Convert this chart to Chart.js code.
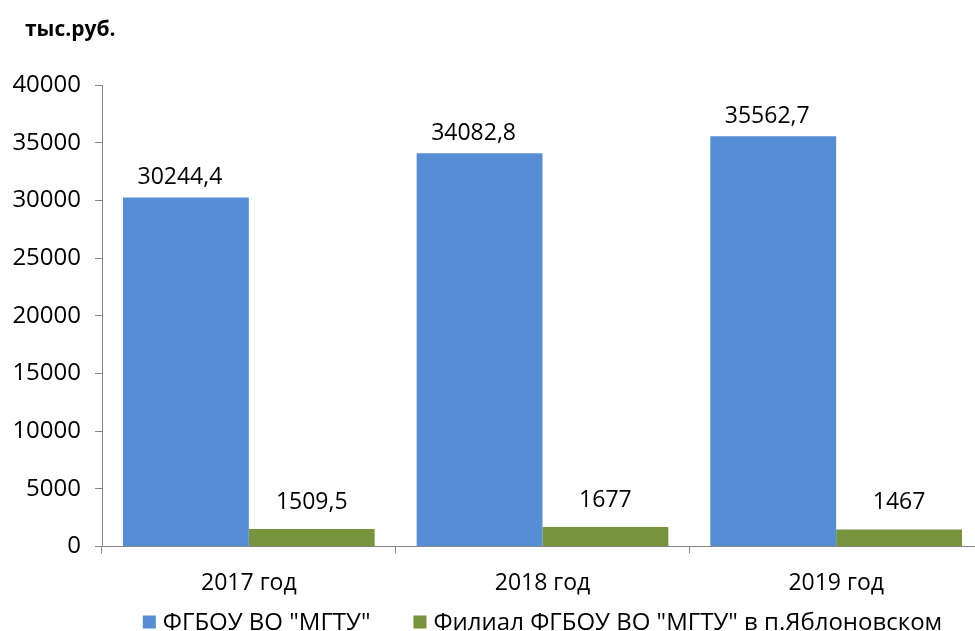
<!DOCTYPE html>
<html>
<head>
<meta charset="utf-8">
<script src="https://cdn.jsdelivr.net/npm/chart.js@4"></script>
<style>
html,body{margin:0;padding:0;overflow:hidden;background:#fff;}
#wrap{width:990px;height:631px;position:relative;}
</style>
</head>
<body>
<div id="wrap"><canvas id="c"></canvas></div>
<script>
const categories = ["2017 год", "2018 год", "2019 год"];
const seriesNames = ['ФГБОУ ВО "МГТУ"', 'Филиал ФГБОУ ВО "МГТУ" в п.Яблоновском'];
const mainValues = [30244.4, 34082.8, 35562.7];
const branchValues = [1509.5, 1677, 1467];
const mainLabels = ["30244,4", "34082,8", "35562,7"];
const branchLabels = ["1509,5", "1677", "1467"];
const unitTitle = "тыс.руб.";

const FONT = "'Open Sans', sans-serif";

const labelPlugin = {
  id: 'valueLabels',
  afterDatasetsDraw(chart) {
    const ctx = chart.ctx;
    ctx.save();
    ctx.font = "23px " + FONT;
    ctx.fillStyle = "#000";
    ctx.textAlign = "center";
    ctx.textBaseline = "middle";
    const sets = [
      {labels: mainLabels, dy: -20, dx: -6},
      {labels: branchLabels, dy: -27, dx: 0}
    ];
    chart.data.datasets.forEach((ds, i) => {
      const meta = chart.getDatasetMeta(i);
      meta.data.forEach((bar, j) => {
        ctx.fillText(sets[i].labels[j], bar.x + sets[i].dx, bar.y + sets[i].dy);
      });
    });
    ctx.restore();
  }
};

const titleLegendPlugin = {
  id: 'titleLegend',
  afterDraw(chart) {
    const ctx = chart.ctx;
    ctx.save();
    ctx.font = "bold 21px " + FONT;
    ctx.fillStyle = "#000";
    ctx.textAlign = "left";
    ctx.textBaseline = "middle";
    ctx.fillText(unitTitle, 25, 30);

    // legend
    ctx.font = "24px " + FONT;
    const box = 13, gapBox = 7, gapItem = 43;
    const ds = chart.data.datasets;
    const widths = ds.map(d => box + gapBox + ctx.measureText(d.label).width);
    const total = widths.reduce((a, b) => a + b, 0) + gapItem * (ds.length - 1);
    const ca = chart.chartArea;
    let x = (ca.left + ca.right) / 2 - total / 2;
    const y = 622;
    ds.forEach((d, i) => {
      ctx.fillStyle = d.backgroundColor;
      ctx.fillRect(x, y - box / 2, box, box);
      ctx.fillStyle = "#000";
      ctx.fillText(d.label, x + box + gapBox, y + 1);
      x += widths[i] + gapItem;
    });
    ctx.restore();
  }
};

new Chart(document.getElementById('c'), {
  type: 'bar',
  data: {
    labels: categories,
    datasets: [
      {label: seriesNames[0], data: mainValues, backgroundColor: '#558ED5', borderWidth: 0},
      {label: seriesNames[1], data: branchValues, backgroundColor: '#77933C', borderWidth: 0}
    ]
  },
  options: {
    responsive: true,
    maintainAspectRatio: false,
    animation: false,
    devicePixelRatio: 1,
    layout: {padding: {top: 85, right: 7, left: 0, bottom: 18}},
    datasets: {bar: {categoryPercentage: 0.857, barPercentage: 1.0}},
    plugins: {
      legend: {display: false},
      tooltip: {enabled: false},
      title: {display: false}
    },
    scales: {
      x: {
        grid: {drawOnChartArea: false, drawTicks: true, tickLength: 7, color: '#868686', offset: true},
        border: {color: '#868686', width: 1},
        ticks: {font: {family: FONT, size: 23}, color: '#000', padding: 16}
      },
      y: {
        min: 0, max: 40000,
        afterFit(scale) { scale.width = 102; },
        grid: {drawOnChartArea: false, drawTicks: true, tickLength: 7, color: '#868686'},
        border: {color: '#868686', width: 1},
        ticks: {stepSize: 5000, font: {family: FONT, size: 24}, color: '#000', padding: 14,
          callback: (v) => String(v)}
      }
    }
  },
  plugins: [labelPlugin, titleLegendPlugin]
});
</script>
</body>
</html>
